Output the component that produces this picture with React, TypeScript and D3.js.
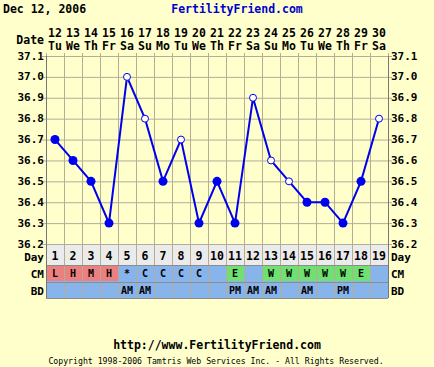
import React from 'react';
import * as d3 from 'd3';

const days = d3.range(1, 20);
const dates = ['12', '13', '14', '15', '16', '17', '18', '19', '20', '21', '22', '23', '24', '25', '26', '27', '28', '29', '30'];
const weekdays = ['Tu', 'We', 'Th', 'Fr', 'Sa', 'Su', 'Mo', 'Tu', 'We', 'Th', 'Fr', 'Sa', 'Su', 'Mo', 'Tu', 'We', 'Th', 'Fr', 'Sa'];
const temps = [36.7, 36.6, 36.5, 36.3, 37.0, 36.8, 36.5, 36.7, 36.3, 36.5, 36.3, 36.9, 36.6, 36.5, 36.4, 36.4, 36.3, 36.5, 36.8];
// open circles = flagged temps
const openTemps = [false, false, false, false, true, true, false, true, false, false, false, true, true, true, false, false, false, false, true];
const cm = ['L', 'H', 'M', 'H', '*', 'C', 'C', 'C', 'C', '', 'E', '', 'W', 'W', 'W', 'W', 'W', 'E', ''];
const bd = ['', '', '', '', 'AM', 'AM', '', '', '', '', 'PM', 'AM', 'AM', '', 'AM', '', 'PM', '', ''];
const yTicks = [37.1, 37.0, 36.9, 36.8, 36.7, 36.6, 36.5, 36.4, 36.3, 36.2];

const W = 434;
const H = 367;
const FONT = '"DejaVu Sans Mono", monospace';
const BG = '#FFFFCC';
const GRID = '#B4AE96';
const BLUE_ROW = '#88B4EC';
const FS = 11;

const cmColor = (c: string) => {
  if (c === 'L' || c === 'H' || c === 'M') return '#EC8080';
  if (c === 'E' || c === 'W') return '#70E070';
  return null;
};

export default function App() {
  const x = d3.scaleBand<number>().domain(days).range([46, 388]);
  const y = d3.scaleLinear().domain([36.2, 37.1]).range([244, 56]);
  const bw = x.bandwidth();
  const cx = (d: number) => (x(d) as number) + bw / 2;

  const line = d3
    .line<number>()
    .x((_, i) => cx(days[i]))
    .y((t) => y(t));

  const dayTop = 244;
  const cmTop = 265;
  const bdTop = 282;
  const bottom = 298;

  return (
    <svg
      width={W}
      height={H}
      style={{ position: 'fixed', left: 0, top: 0, background: BG }}
      fontFamily={FONT}
      fontWeight="bold"
    >
      <rect width={W} height={H} fill={BG} />

      {/* header */}
      <text x={3} y={13} fontSize={11.5} fill="#000">Dec 12, 2006</text>
      <text x={237} y={13} fontSize={11.5} fill="#0000CC" textAnchor="middle">FertilityFriend.com</text>
      <text x={44} y={44} fontSize={11.5} textAnchor="end">Date</text>
      {days.map((d, i) => (
        <g key={'dt' + d}>
          <text x={cx(d)} y={37} fontSize={11.5} textAnchor="middle">{dates[i]}</text>
          <text x={cx(d)} y={50} fontSize={11.5} textAnchor="middle">{weekdays[i]}</text>
        </g>
      ))}

      {/* rows */}
      <rect x={46} y={dayTop} width={342} height={cmTop - dayTop} fill="#EBEBEB" />
      <rect x={46} y={cmTop} width={342} height={bottom - cmTop} fill={BLUE_ROW} />
      {days.map((d, i) => {
        const c = cmColor(cm[i]);
        return c ? (
          <rect key={'cmc' + d} x={(x(d) as number) + 1} y={cmTop + 1} width={bw - 1} height={bdTop - cmTop - 2} fill={c} />
        ) : null;
      })}

      {/* grid */}
      {yTicks.map((t) => (
        <g key={'yt' + t}>
          <line x1={42} x2={392} y1={y(t) + 0.5} y2={y(t) + 0.5} stroke={GRID} />
          <text x={44} y={y(t) + 3.5} fontSize={FS} textAnchor="end">{t.toFixed(1)}</text>
          <text x={391} y={y(t) + 3.5} fontSize={FS}>{t.toFixed(1)}</text>
        </g>
      ))}
      {days.concat([20]).map((d) => {
        const xx = d === 20 ? 388 : (x(d) as number);
        return <line key={'vg' + d} x1={xx + 0.5} x2={xx + 0.5} y1={53} y2={bottom} stroke={GRID} />;
      })}
      <line x1={46} x2={388} y1={cmTop + 0.5} y2={cmTop + 0.5} stroke="#8C8C8C" />
      <line x1={46} x2={388} y1={bdTop + 0.5} y2={bdTop + 0.5} stroke="#8C8C8C" />
      <line x1={46} x2={388} y1={bottom + 0.5} y2={bottom + 0.5} stroke="#8C8C8C" />
      <line x1={46.5} x2={46.5} y1={56} y2={bottom} stroke="#777" />
      <line x1={388.5} x2={388.5} y1={56} y2={bottom} stroke="#777" />

      {/* row labels */}
      <text x={44} y={260.5} fontSize={FS} textAnchor="end">Day</text>
      <text x={391} y={260.5} fontSize={FS}>Day</text>
      <text x={44} y={278} fontSize={FS} textAnchor="end">CM</text>
      <text x={391} y={278} fontSize={FS}>CM</text>
      <text x={44} y={295} fontSize={FS} textAnchor="end">BD</text>
      <text x={391} y={295} fontSize={FS}>BD</text>
      {days.map((d, i) => (
        <g key={'row' + d} fontSize={11.5}>
          <text x={cx(d)} y={260} textAnchor="middle">{d}</text>
          <text x={cx(d)} y={277} textAnchor="middle" fontSize={10}>{cm[i]}</text>
          <text x={cx(d)} y={294} textAnchor="middle" fontSize={10}>{bd[i]}</text>
        </g>
      ))}

      {/* temperatures */}
      <path d={line(temps) || ''} fill="none" stroke="#0000F0" strokeWidth={2} />
      {temps.map((t, i) =>
        openTemps[i] ? (
          <circle key={'p' + i} cx={cx(days[i])} cy={y(t)} r={3.5} fill="#FFFFFF" stroke="#0000F0" strokeWidth={1} />
        ) : (
          <circle key={'p' + i} cx={cx(days[i])} cy={y(t)} r={4.5} fill="#0000F0" />
        )
      )}

      {/* footer */}
      <text x={217} y={349} fontSize={11.5} textAnchor="middle">http://www.FertilityFriend.com</text>
      <text x={216} y={364} fontSize={8.2} fontWeight="normal" textAnchor="middle">
        Copyright 1998-2006 Tamtris Web Services Inc. - All Rights Reserved.
      </text>
    </svg>
  );
}
